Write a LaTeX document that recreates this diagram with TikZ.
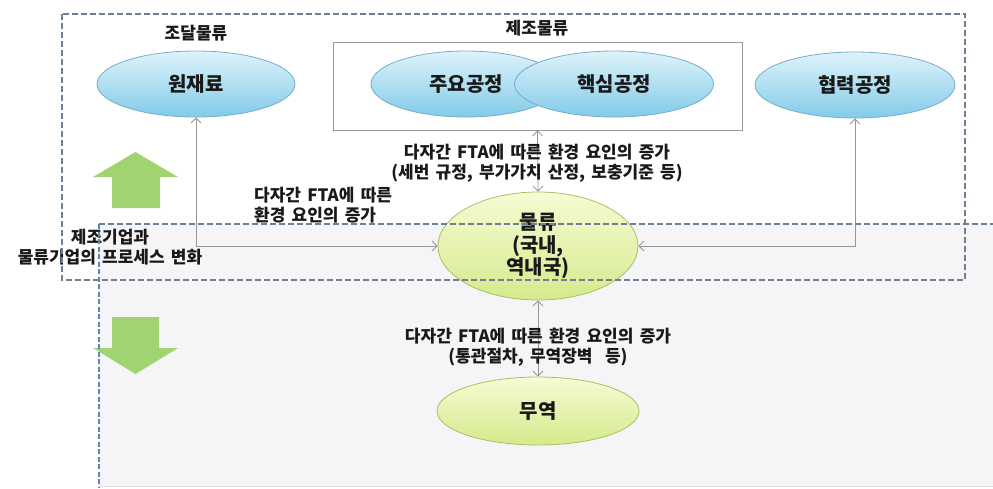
\documentclass[tikz,border=0pt]{standalone}
\usepackage{fontspec}
\setmainfont{Noto Sans CJK KR}[WordSpace=1.6]
\usetikzlibrary{shapes.geometric,arrows.meta}
\definecolor{graybg}{RGB}{245,245,247}
\definecolor{dashc}{RGB}{110,128,148}
\definecolor{bluedash}{RGB}{90,135,185}
\definecolor{greenarr}{RGB}{160,212,112}
\definecolor{bluetop}{RGB}{222,243,251}
\definecolor{bluebot}{RGB}{130,203,232}
\definecolor{blueedge}{RGB}{120,172,200}
\definecolor{ygtop}{RGB}{247,251,212}
\definecolor{ygbot}{RGB}{212,234,140}
\definecolor{ygedge}{RGB}{168,192,100}
\definecolor{conncol}{RGB}{150,150,150}
\definecolor{txt}{RGB}{25,25,25}
\begin{document}
\begin{tikzpicture}[x=1pt,y=-1pt,
  blueell/.style={ellipse, draw=blueedge, line width=0.8pt, top color=bluetop, bottom color=bluebot, inner sep=0pt, text=txt, font=\fontsize{20}{23}\selectfont\bfseries},
  ygell/.style={ellipse, draw=ygedge, line width=0.8pt, top color=ygtop, bottom color=ygbot, inner sep=0pt, text=txt, align=center, font=\fontsize{20}{22.5}\selectfont\bfseries},
  lbl/.style={text=txt, inner sep=0pt, font=\fontsize{17}{20}\selectfont\bfseries},
  conn/.style={draw=conncol, line width=0.8pt, {Straight Barb[length=5pt,width=10pt]}-{Straight Barb[length=5pt,width=10pt]}},
  dashbox/.style={draw=dashc, line width=1.1pt, dash pattern=on 6pt off 3pt},
  rectbox/.style={draw=gray!80, line width=0.8pt, minimum width=409pt, minimum height=88pt, inner sep=0pt}
]
\useasboundingbox (0,0) rectangle (993,488);
\fill[white] (0,0) rectangle (993,488);
% gray region
\fill[graybg] (99,224) rectangle (1000,486);
% green arrows
\fill[greenarr] (112,208) -- (112,177) -- (93,177) -- (135.5,152) -- (178,177) -- (160,177) -- (160,208) -- cycle;
\fill[greenarr] (112,317) -- (159,317) -- (159,348) -- (178,348) -- (135.5,374) -- (93,348) -- (112,348) -- cycle;
% manufacturing box
\node[rectbox] (mfg) at (537.5,86) {};
% ellipses
\node[blueell, minimum width=198pt, minimum height=66pt] (wj) at (196,84) {원재료};
\node[blueell, minimum width=190pt, minimum height=66pt] (jy) at (466,84) {주요공정};
\node[blueell, minimum width=199pt, minimum height=66pt] (hs) at (614,84) {핵심공정};
\node[blueell, minimum width=200pt, minimum height=66pt] (hr) at (855,85) {협력공정};
\node[ygell, minimum width=200pt, minimum height=108pt] (mr) at (538,246) {물류\\(국내,\\역내국)};
\node[ygell, minimum width=202pt, minimum height=68pt] (my) at (538,411) {무역};
% connectors
\draw[conn] (wj.south) |- (mr.west);
\draw[conn] (hr.south) |- (mr.east);
\draw[conn] (mfg.south) -- (mr.north);
\draw[conn] (mr.south) -- (my.north);
% labels
\node[lbl] (t1) at (196,33) {조달물류};
\node[lbl] (t2) at (537,28) {제조물류};
\node[lbl, align=center] (t3) at (537,163) {다자간 FTA에 따른 환경 요인의 증가\\(세번 규정, 부가가치 산정, 보충기준 등)};
\node[lbl, align=left, anchor=west] (t4) at (254,205) {다자간 FTA에 따른\\환경 요인의 증가};
\node[lbl, align=center] (t5) at (110,247) {제조기업과\\물류기업의 프로세스 변화};
\node[lbl, align=center] (t6) at (538,347) {다자간 FTA에 따른 환경 요인의 증가\\(통관절차, 무역장벽\ \ 등)};
% dashed outlines on top
\draw[dashbox] (62,14) rectangle (965,280);
\draw[dashbox] (99,224) -- (993,224);
\draw[draw=bluedash, line width=1.1pt, dash pattern=on 5pt off 2.5pt] (99,224) -- (99,488);
\draw[draw=gray!25, line width=0.8pt] (99,486) -- (993,486);
\end{tikzpicture}
\end{document}
